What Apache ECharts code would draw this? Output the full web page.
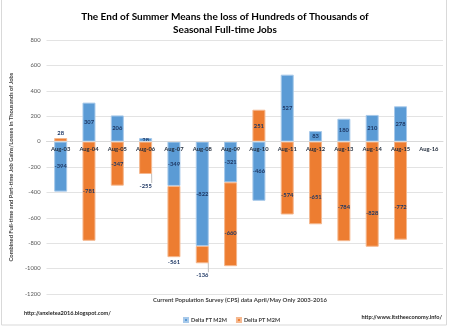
<!DOCTYPE html>
<html>
<head>
<meta charset="utf-8">
<script src="https://cdn.jsdelivr.net/npm/echarts@6/dist/echarts.min.js"></script>
<style>html,body{margin:0;padding:0;background:#fff}#c{width:450px;height:327px}</style>
</head>
<body>
<div id="c"></div>
<script>
const categories = ['Aug-03','Aug-04','Aug-05','Aug-06','Aug-07','Aug-08','Aug-09','Aug-10','Aug-11','Aug-12','Aug-13','Aug-14','Aug-15','Aug-16'];
const deltaFT = [-394, 307, 206, 28, -349, -822, -321, -466, 527, 83, 180, 210, 278, null];
const deltaPT = [28, -781, -347, -255, -561, -136, -660, 251, -574, -651, -784, -828, -772, null];
const yTicks = [800, 600, 400, 200, 0, -200, -400, -600, -800, -1000, -1200];

const FONT = 'Lato';
const labelColor = '#1f3864';
const yMin = -1200, yMax = 800;
const gridTop = 40, gridBottom = 33, H = 327;

// label placement styling (not data)
const ptLabelStyle = {
  0: {position: 'top', distance: 2},
  3: {position: 'bottom', distance: 9, line: true},
  4: {position: 'bottom', distance: 2},
  5: {position: 'bottom', distance: 9, line: true},
  6: {offset: [0, 9]},
  8: {offset: [0, 17]},
  9: {offset: [0, 14]},
  10: {offset: [0, 16]},
  11: {offset: [0, 19]},
  12: {offset: [0, 17]}
};

const ptData = deltaPT.map((v, i) => {
  const s = ptLabelStyle[i];
  if (!s) return v;
  const item = {value: v, label: {}};
  if (s.position) { item.label.position = s.position; item.label.distance = s.distance; }
  if (s.offset) item.label.offset = s.offset;
  if (s.line) item.labelLine = {show: true, lineStyle: {color: '#bfbfbf', width: 1}};
  return item;
});

// axis line sits at value 0: shift the category axis up from the grid bottom
const plotH = H - gridTop - gridBottom;
const zeroShift = plotH * (0 - yMin) / (yMax - yMin);

const chart = echarts.init(document.getElementById('c'), null, {renderer: 'canvas'});
chart.setOption({
  animation: false,
  textStyle: {fontFamily: FONT},
  title: {
    text: 'The End of Summer Means the loss of Hundreds of Thousands of\nSeasonal Full-time Jobs',
    left: 'center', top: 5,
    textStyle: {fontFamily: FONT, fontSize: 10, fontWeight: 'bold', color: '#000', lineHeight: 13.5}
  },
  grid: {left: 38, right: 7, top: gridTop, bottom: gridBottom},
  legend: {
    data: ['Delta FT M2M', 'Delta PT M2M'],
    left: 178, top: 312,
    icon: 'rect', itemWidth: 4, itemHeight: 4, itemGap: 9,
    textStyle: {fontFamily: FONT, fontSize: 5.5, color: '#404040', fontWeight: 'bold', padding: [0,0,0,-2]}
  },
  xAxis: {
    type: 'category', data: categories, z: 10,
    offset: -zeroShift,
    axisLine: {onZero: false, lineStyle: {color: '#d9d9d9'}},
    axisTick: {show: false},
    axisLabel: {fontFamily: FONT, fontSize: 5.8, fontWeight: 'bold', color: '#1f2a3a', margin: 5, interval: 0}
  },
  yAxis: {
    type: 'value', min: yMin, max: yMax, interval: 200,
    name: 'Combined Full-time and Part-time Job Gains/Losses in Thousands of Jobs',
    nameLocation: 'middle', nameGap: 18,
    nameTextStyle: {fontFamily: FONT, fontSize: 5.8, fontWeight: 'bold', color: '#404040'},
    axisLine: {show: false}, axisTick: {show: false},
    axisLabel: {fontFamily: FONT, fontSize: 5.8, color: '#595959', margin: 6,
      formatter: v => yTicks.includes(v) ? String(v) : ''},
    splitLine: {lineStyle: {color: '#e3e3e3', width: 1}}
  },
  series: [
    {
      name: 'Delta FT M2M', type: 'bar', stack: 'jobs', data: deltaFT, barWidth: 13,
      itemStyle: {color: '#5b9bd5', borderColor: '#a7c9ea', borderWidth: 1},
      label: {show: true, position: 'inside', fontFamily: FONT, fontSize: 5.8, fontWeight: 'bold', color: labelColor}
    },
    {
      name: 'Delta PT M2M', type: 'bar', stack: 'jobs', data: ptData, barWidth: 13,
      itemStyle: {color: '#ed7d31', borderColor: '#f5b88f', borderWidth: 1},
      label: {show: true, position: 'inside', fontFamily: FONT, fontSize: 5.8, fontWeight: 'bold', color: labelColor}
    }
  ],
  graphic: [
    {type: 'rect', shape: {x: 1.5, y: -1, width: 445, height: 326}, style: {fill: 'none', stroke: '#d9d9d9', lineWidth: 1}, silent: true},
    {type: 'text', x: 240, y: 300, style: {text: 'Current Population Survey (CPS) data April/May Only 2003-2016', fontFamily: FONT, fontSize: 6, fontWeight: 'bold', fill: '#404040', align: 'center', verticalAlign: 'middle'}},
    {type: 'text', x: 24, y: 313, style: {text: 'http://anxietea2016.blogspot.com/', fontFamily: FONT, fontSize: 5.6, fontWeight: 'bold', fill: '#262626', align: 'left', verticalAlign: 'middle'}},
    {type: 'text', x: 442, y: 317.5, style: {text: 'http://www.itstheeconomy.info/', fontFamily: FONT, fontSize: 5.6, fontWeight: 'bold', fill: '#262626', align: 'right', verticalAlign: 'middle'}}
  ]
});
</script>
</body>
</html>
